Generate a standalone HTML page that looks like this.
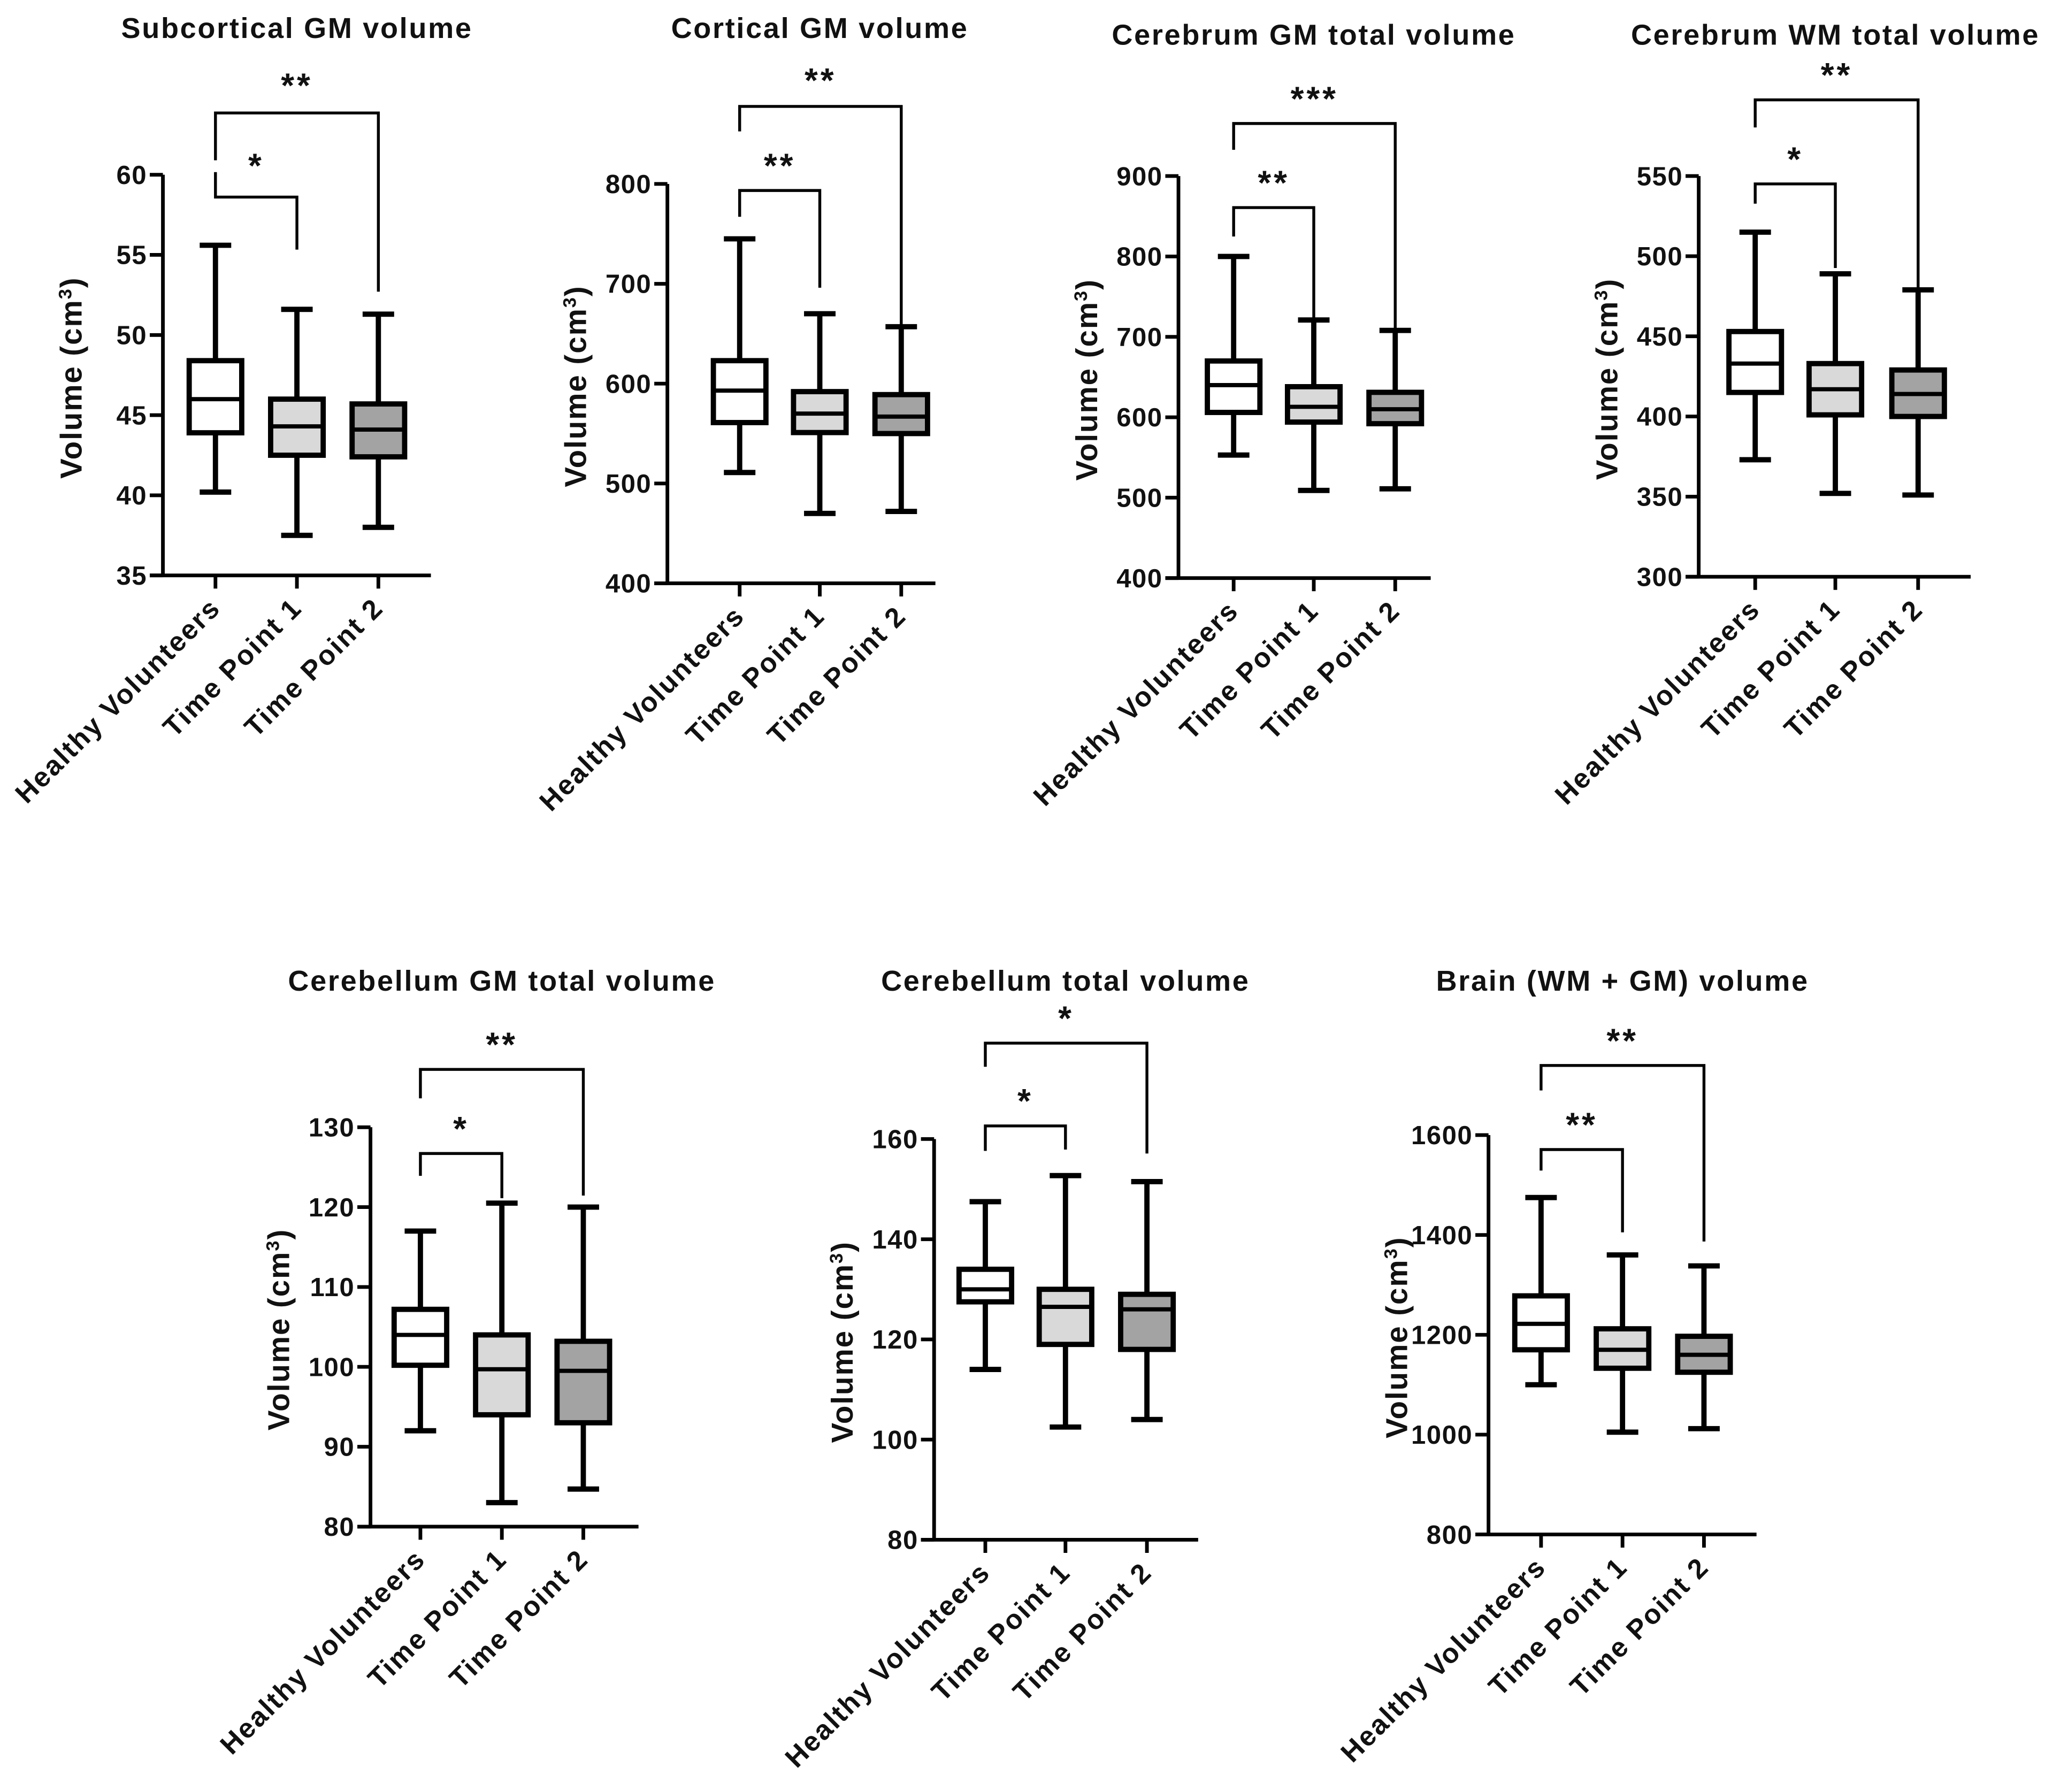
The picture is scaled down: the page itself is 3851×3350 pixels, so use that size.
<!DOCTYPE html>
<html><head><meta charset="utf-8"><style>
html,body{margin:0;padding:0;background:#fff;}
svg{display:block;font-family:"Liberation Sans",Arial,sans-serif;}
</style></head><body>
<svg id="fig" width="3851" height="3350" viewBox="0 0 1568 1364" xmlns="http://www.w3.org/2000/svg"></svg>
<script>
const titles = ["Subcortical GM volume","Cortical GM volume","Cerebrum GM total volume","Cerebrum WM total volume","Cerebellum GM total volume","Cerebellum total volume","Brain (WM + GM) volume"];
const categories = ["Healthy Volunteers","Time Point 1","Time Point 2"];
const yMins = [35,400,400,300,80,80,800];
const yMaxs = [60,800,900,550,130,160,1600];
const tickSteps = [5,100,100,50,10,20,200];
// [min, q1, median, q3, max] per group
const stats1 = [[40.2,43.9,46.0,48.4,55.6],[37.5,42.5,44.3,46.0,51.6],[38.0,42.4,44.1,45.7,51.3]];
const stats2 = [[511,561,593,623,745],[470,551,570,592,670],[472,550,567,589,657]];
const stats3 = [[553,606,640,670,800],[509,594,613,638,721],[511,592,610,631,708]];
const stats4 = [[373,415,433,453,515],[352,401,417,433,489],[351,400,414,429,479]];
const stats5 = [[92,100.2,104,107.2,117],[83,94,99.7,104,120.5],[84.7,93,99.5,103.2,120]];
const stats6 = [[114,127.5,130,134,147.5],[102.5,119,126.5,130,152.7],[104,118,126,129,151.5]];
const stats7 = [[1100,1170,1222,1278,1475],[1005,1133,1170,1212,1360],[1012,1125,1160,1197,1338]];
const allStats = [stats1,stats2,stats3,stats4,stats5,stats6,stats7];
const sigShort = ["*","**","**","*","*","*","**"];
const sigLong = ["**","**","***","**","**","*","**"];
const fills = ["#ffffff","#d9d9d9","#a3a3a3"];

const layout = [
 {ax:124,top:133,bot:438,xr:328,cx:[164,226,288],tc:226,ty:29, sb:[150,131,190,133],lb:[86,122,222,72]},
 {ax:508,top:140,bot:444,xr:712,cx:[563,624,686],tc:624,ty:29, sb:[145,165,219,133],lb:[81,100,268,68]},
 {ax:897,top:134,bot:440,xr:1089,cx:[939,1000,1062],tc:1000,ty:34, sb:[158,180,282,146],lb:[94,114,268,82]},
 {ax:1293,top:134,bot:439,xr:1500,cx:[1336,1397,1460],tc:1397,ty:34, sb:[140,155,204,128],lb:[76,97,259,64]},
 {ax:282,top:858,bot:1162,xr:486,cx:[320,382,444],tc:382,ty:754, sb:[878,895,912,866],lb:[814,836,910,802]},
 {ax:711,top:867,bot:1172,xr:912,cx:[750,811,873],tc:811,ty:754, sb:[857,876,875,845],lb:[794,812,878,782]},
 {ax:1133,top:864,bot:1168,xr:1337,cx:[1173,1235,1297],tc:1235,ty:754, sb:[875,891,938,863],lb:[811,830,945,799]}
];

const svg = document.getElementById('fig');
const NS = "http://www.w3.org/2000/svg";
function mk(tag, attrs, parent){
  const e = document.createElementNS(NS, tag);
  for (const k in attrs) e.setAttribute(k, attrs[k]);
  (parent||svg).appendChild(e);
  return e;
}
function txt(s, attrs, parent){ const t = mk('text', attrs, parent); t.textContent = s; return t; }

allStats.forEach((stats, p) => {
  const L = layout[p];
  const g = mk('g', {});
  
  
  const yScale = v => L.bot - (v - yMins[p]) / (yMaxs[p] - yMins[p]) * (L.bot - L.top);

  const t = txt(titles[p], {x:L.tc, y:L.ty, 'text-anchor':'middle', 'font-size':22, 'font-weight':'bold', fill:'#111', 'letter-spacing':1.1}, g);
  
  

  const ya = mk('line', {x1:L.ax, y1:L.top, x2:L.ax, y2:L.bot, stroke:'#000', 'stroke-width':2.8}, g);
  
  
  const xa = mk('line', {x1:L.ax-10, y1:L.bot, x2:L.xr, y2:L.bot, stroke:'#000', 'stroke-width':2.8}, g);
  
  

  for (let v = yMins[p]; v <= yMaxs[p] + 1e-9; v += tickSteps[p]) {
    const y = yScale(v);
    mk('line', {x1:L.ax-10, y1:y, x2:L.ax, y2:y, stroke:'#000', 'stroke-width':2.8}, g);
    const tl = txt(String(v), {x:L.ax-12, y:y+7, 'text-anchor':'end', 'font-size':20, 'font-weight':'bold', fill:'#111', 'letter-spacing':0.6}, g);
    
    
  }

  const yl = txt('', {transform:`translate(${L.ax-62},${(L.top+L.bot)/2+2}) rotate(-90)`, 'text-anchor':'middle', 'font-size':23, 'font-weight':'bold', fill:'#111', 'letter-spacing':0.8}, g);
  
  
  const ts1 = mk('tspan', {}, yl); ts1.textContent = 'Volume (cm';
  const ts2 = mk('tspan', {'baseline-shift':'super', 'font-size':14}, yl); ts2.textContent = '3';
  const ts3 = mk('tspan', {}, yl); ts3.textContent = ')';

  stats.forEach((s, i) => {
    const cx = L.cx[i];
    mk('line', {x1:cx, y1:L.bot, x2:cx, y2:L.bot+10, stroke:'#000', 'stroke-width':2.8}, g);
    const xl = txt(categories[i], {transform:`translate(${cx+5},${L.bot+26}) rotate(-45)`, 'text-anchor':'end', 'font-size':21, 'font-weight':'bold', fill:'#111', 'letter-spacing':1.2}, g);
    
    

    const bg = mk('g', {}, g);
    
    
    const [mn, q1, md, q3, mx] = s.map(yScale);
    const w = 20, cw = 12;
    mk('line', {x1:cx, y1:mx, x2:cx, y2:q3, stroke:'#000', 'stroke-width':4}, bg);
    mk('line', {x1:cx, y1:q1, x2:cx, y2:mn, stroke:'#000', 'stroke-width':4}, bg);
    mk('line', {x1:cx-cw, y1:mx, x2:cx+cw, y2:mx, stroke:'#000', 'stroke-width':4}, bg);
    mk('line', {x1:cx-cw, y1:mn, x2:cx+cw, y2:mn, stroke:'#000', 'stroke-width':4}, bg);
    mk('rect', {x:cx-w, y:q3, width:2*w, height:q1-q3, fill:fills[i], stroke:'#000', 'stroke-width':4}, bg);
    mk('line', {x1:cx-w, y1:md, x2:cx+w, y2:md, stroke:'#000', 'stroke-width':3.2}, bg);
  });

  [[L.sb, sigShort[p], L.cx[1], 'short'], [L.lb, sigLong[p], L.cx[2], 'long']].forEach(([b, lab, x2, nm]) => {
    const br = mk('path', {d:`M${L.cx[0]},${b[1]} V${b[0]} H${x2} V${b[2]}`, fill:'none', stroke:'#000', 'stroke-width':2.2}, g);
    
    
    const st = txt(lab, {x:(L.cx[0]+x2)/2, y:b[3]+2, 'text-anchor':'middle', 'font-size':26, 'font-weight':'bold', fill:'#111', 'letter-spacing':2}, g);
    
    
  });
});
</script>
</body></html>
